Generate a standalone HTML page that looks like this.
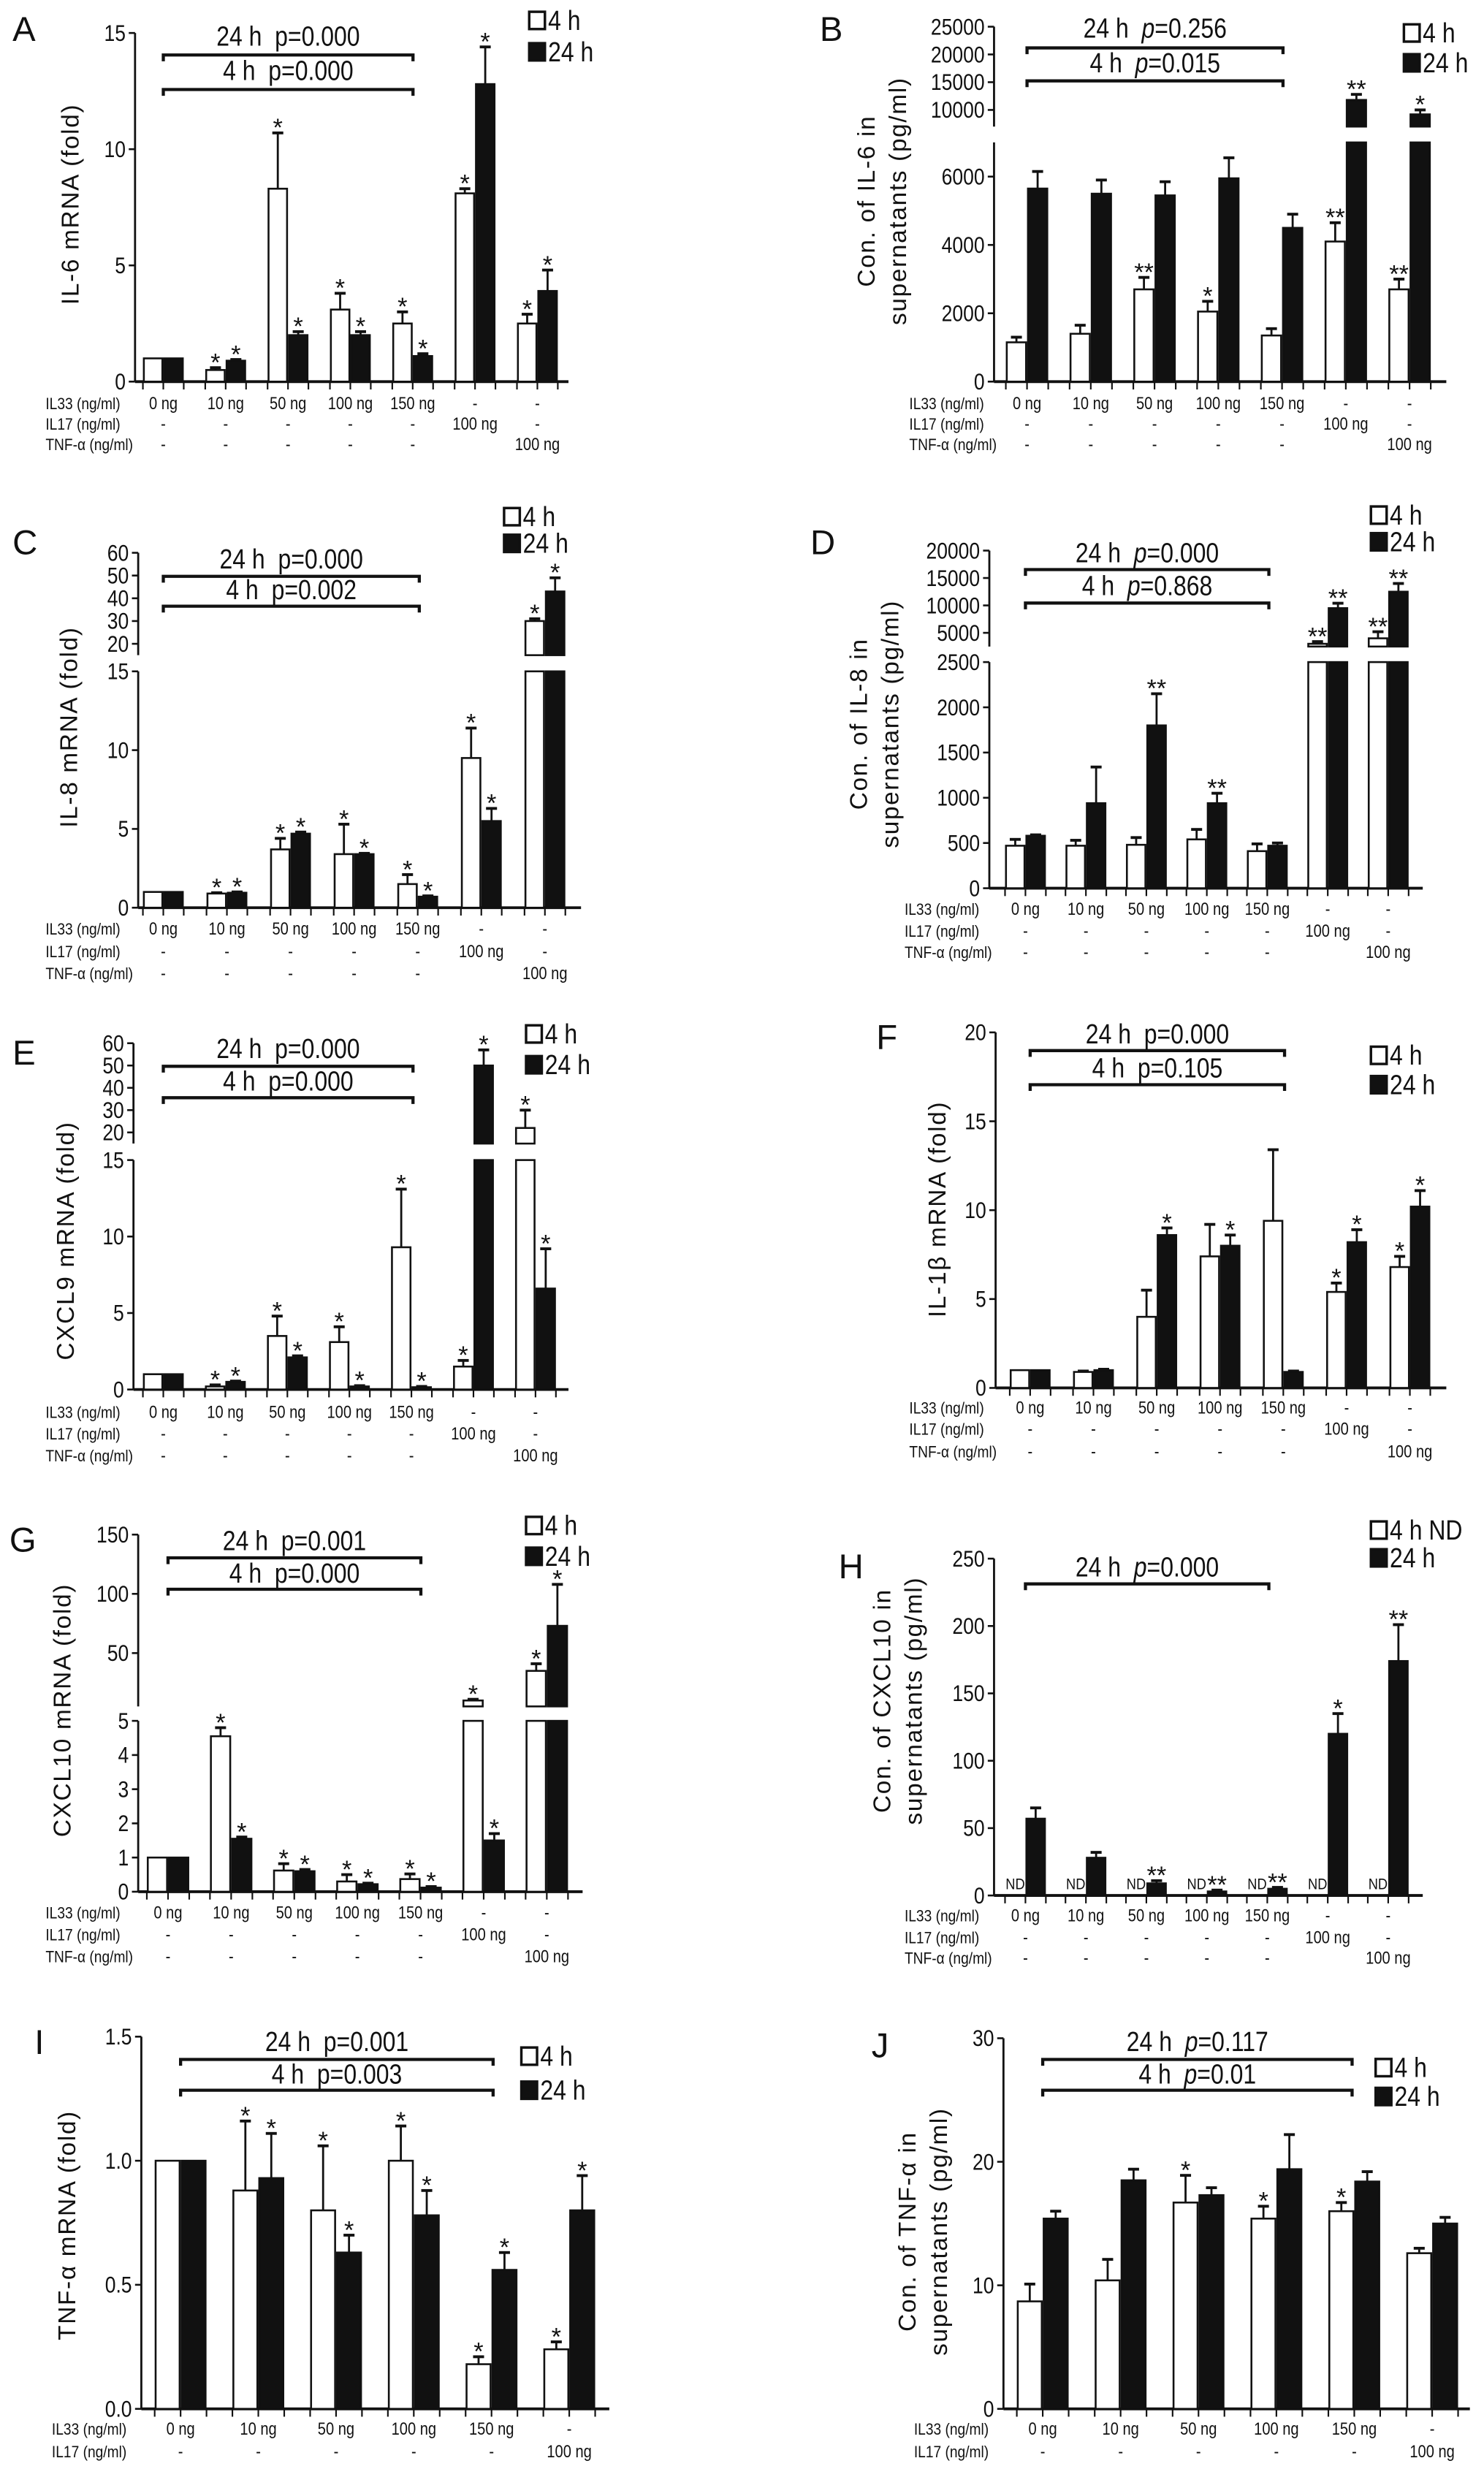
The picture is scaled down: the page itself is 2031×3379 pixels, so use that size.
<!DOCTYPE html>
<html><head><meta charset="utf-8"><title>Cytokine expression panels A–J</title>
<style>
html,body{margin:0;padding:0;background:#fff;}
svg{display:block;}
text{font-family:"Liberation Sans Narrow","Liberation Sans",sans-serif;fill:#111;}
.yl{font-family:"Liberation Sans",sans-serif;letter-spacing:0.8px;}
</style></head>
<body>
<svg id="fig" width="2031" height="3379" viewBox="0 0 945 1572.2" preserveAspectRatio="none" xmlns="http://www.w3.org/2000/svg"></svg>
<script>
// ---- shared category rows ----
const il33Row = ['0 ng','10 ng','50 ng','100 ng','150 ng','-','-'];
const il17Row = ['-','-','-','-','-','100 ng','-'];
const tnfRow  = ['-','-','-','-','-','','100 ng'];
const il33Row6 = ['0 ng','10 ng','50 ng','100 ng','150 ng','-'];
const il17Row6 = ['-','-','-','-','-','100 ng'];

// ---- Panel A ----
const A_ticks = [0,5,10,15];
const A_white = [1,0.5,8.3,3.1,2.5,8.1,2.5];
const A_whiteErr = [0,0.1,2.4,0.7,0.5,0.2,0.4];
const A_black = [1,0.9,2.0,2.0,1.1,12.8,3.9];
const A_blackErr = [0,0.05,0.15,0.15,0.1,1.6,0.9];
const A_whiteStars = ['','*','*','*','*','*','*'];
const A_blackStars = ['','*','*','*','*','*','*'];
// ---- Panel B ----
const B_ticks = [0,2000,4000,6000,10000,15000,20000,25000];
const B_white = [1150,1400,2700,2050,1350,4100,2700];
const B_whiteErr = [150,250,350,300,200,550,300];
const B_black = [5650,5500,5450,5950,4500,11800,9200];
const B_blackErr = [500,400,400,600,400,1000,800];
const B_whiteStars = ['','','**','*','','**','**'];
const B_blackStars = ['','','','','','**','*'];
// ---- Panel C ----
const C_ticks = [0,5,10,15,20,30,40,50,60];
const C_white = [1,0.9,3.7,3.4,1.5,9.5,30];
const C_whiteErr = [0,0.05,0.7,1.9,0.6,1.9,1];
const C_black = [1,0.95,4.7,3.4,0.7,5.5,43];
const C_blackErr = [0,0.05,0.1,0.05,0.05,0.8,6];
const C_whiteStars = ['','*','*','*','*','*','*'];
const C_blackStars = ['','*','*','*','*','*','*'];
// ---- Panel D ----
const D_ticks = [0,500,1000,1500,2000,2500,5000,10000,15000,20000];
const D_white = [470,470,480,540,410,3000,4000];
const D_whiteErr = [70,60,80,110,80,400,1200];
const D_black = [580,940,1800,940,470,9500,12500];
const D_blackErr = [10,400,350,110,30,900,1500];
const D_whiteStars = ['','','','','','**','**'];
const D_blackStars = ['','','**','**','','**','**'];
// ---- Panel E ----
const E_ticks = [0,5,10,15,20,30,40,50,60];
const E_white = [1,0.2,3.5,3.1,9.3,1.5,22];
const E_whiteErr = [0,0.1,1.3,1.0,3.8,0.4,8];
const E_black = [1,0.5,2.1,0.2,0.15,50,6.6];
const E_blackErr = [0,0.05,0.1,0.05,0.05,7,2.6];
const E_whiteStars = ['','*','*','*','*','*','*'];
const E_blackStars = ['','*','*','*','*','*','*'];
// ---- Panel F ----
const F_ticks = [0,5,10,15,20];
const F_white = [1,0.9,4.0,7.4,9.4,5.4,6.8];
const F_whiteErr = [0,0.05,1.5,1.8,4.0,0.5,0.6];
const F_black = [1,1.0,8.6,8.0,0.9,8.2,10.2];
const F_blackErr = [0,0.05,0.4,0.6,0.05,0.7,0.9];
const F_whiteStars = ['','','','','','*','*'];
const F_blackStars = ['','','*','*','','*','*'];
// ---- Panel G ----
const G_ticks = [0,1,2,3,4,5,50,100,150];
const G_white = [1,4.55,0.62,0.3,0.37,10,35];
const G_whiteErr = [0,0.25,0.2,0.2,0.15,1,6];
const G_black = [1,1.55,0.6,0.22,0.12,1.5,73];
const G_blackErr = [0,0.05,0.05,0.03,0.03,0.2,35];
const G_whiteStars = ['','*','*','*','*','*','*'];
const G_blackStars = ['','*','*','*','*','*','*'];
// ---- Panel H ----
const H_ticks = [0,50,100,150,200,250];
const H_white = [0,0,0,0,0,0,0];
const H_whiteErr = [0,0,0,0,0,0,0];
const H_black = [57,28,9,3,5,120,174];
const H_blackErr = [8,4,2,1,1,15,27];
const H_whiteStars = ['','','','','','',''];
const H_blackStars = ['','','**','**','**','*','**'];
// ---- Panel I ----
const I_ticks = [0,0.5,1.0,1.5];
const I_tickLabels = ['0.0','0.5','1.0','1.5'];
const I_white = [1.0,0.88,0.80,1.0,0.18,0.24];
const I_whiteErr = [0,0.28,0.26,0.14,0.03,0.03];
const I_black = [1.0,0.93,0.63,0.78,0.56,0.80];
const I_blackErr = [0,0.18,0.07,0.10,0.07,0.14];
const I_whiteStars = ['','*','*','*','*','*'];
const I_blackStars = ['','*','*','*','*','*'];
// ---- Panel J ----
const J_ticks = [0,10,20,30];
const J_white = [8.7,10.4,16.7,15.4,16.0,12.6];
const J_whiteErr = [1.4,1.7,2.2,1.0,0.7,0.4];
const J_black = [15.4,18.5,17.3,19.4,18.4,15.0];
const J_blackErr = [0.6,0.9,0.6,2.8,0.8,0.5];
const J_whiteStars = ['','','*','*','*',''];
const J_blackStars = ['','','','','',''];

const SP = '\u00a0\u00a0';
// ---- layout (positions, not data) ----
const panels = [
 {id:'a',L:'A',lx:8,ly:18,ax:86,right:362,c0:104,step:39.7,bw:13,
  segs:[{v0:0,v1:15,y0:243,y1:21}],ticks:A_ticks,white:A_white,we:A_whiteErr,black:A_black,be:A_blackErr,ws:A_whiteStars,bs:A_blackStars,
  sig:[{t:'24 h'+SP+'p=0.000',ty:23,ly:35},{t:'4 h'+SP+'p=0.000',ty:45,ly:57}],sigX:[104,263],
  leg:{x:337,y1:13,y2:33,l1:'4 h'},ylab:{x:45,y:130,lines:['IL-6 mRNA (fold)']},rowX:29,rowY:[257,270,283],rows:3},
 {id:'b',L:'B',lx:522,ly:18,ax:633,right:921,c0:654,step:40.6,bw:13.5,
  segs:[{v0:0,v1:7000,y0:243,y1:90.7},{v0:7000,v1:25000,y0:80.6,y1:17}],ticks:B_ticks,white:B_white,we:B_whiteErr,black:B_black,be:B_blackErr,ws:B_whiteStars,bs:B_blackStars,
  sig:[{t:'24 h'+SP,p:'p',r:'=0.256',ty:18,ly:30.5},{t:'4 h'+SP,p:'p',r:'=0.015',ty:40,ly:51.5}],sigX:[654,817],
  leg:{x:894,y1:21,y2:40,l1:'4 h'},ylab:{x:562,y:128,lines:['Con. of IL-6 in','supernatants (pg/ml)']},rowX:579,rowY:[257,270,283],rows:3},
 {id:'c',L:'C',lx:8,ly:345,ax:88,right:370,c0:104,step:40.5,bw:13,
  segs:[{v0:0,v1:15,y0:578,y1:427.5},{v0:15,v1:60,y0:417.2,y1:352}],ticks:C_ticks,white:C_white,we:C_whiteErr,black:C_black,be:C_blackErr,ws:C_whiteStars,bs:C_blackStars,
  sig:[{t:'24 h'+SP+'p=0.000',ty:356,ly:367},{t:'4 h'+SP+'p=0.002',ty:375.5,ly:386}],sigX:[104,267],
  leg:{x:321,y1:329,y2:346,l1:'4 h'},ylab:{x:44,y:463,lines:['IL-8 mRNA (fold)']},rowX:29,rowY:[591.5,606,620],rows:3},
 {id:'d',L:'D',lx:516,ly:345,ax:630,right:906,c0:653,step:38.5,bw:13,
  segs:[{v0:0,v1:2500,y0:565.6,y1:421.6},{v0:2500,v1:20000,y0:411.7,y1:350.6}],ticks:D_ticks,white:D_white,we:D_whiteErr,black:D_black,be:D_blackErr,ws:D_whiteStars,bs:D_blackStars,
  sig:[{t:'24 h'+SP,p:'p',r:'=0.000',ty:352,ly:362.7},{t:'4 h'+SP,p:'p',r:'=0.868',ty:373,ly:384}],sigX:[653,808],
  leg:{x:873,y1:328,y2:345,l1:'4 h'},ylab:{x:557,y:461,lines:['Con. of IL-8 in','supernatants (pg/ml)']},rowX:576,rowY:[579,593,606.5],rows:3},
 {id:'e',L:'E',lx:8,ly:670,ax:85,right:362,c0:104,step:39.5,bw:13,
  segs:[{v0:0,v1:15,y0:884.8,y1:738.7},{v0:15,v1:60,y0:728.2,y1:664.3}],ticks:E_ticks,white:E_white,we:E_whiteErr,black:E_black,be:E_blackErr,ws:E_whiteStars,bs:E_blackStars,
  sig:[{t:'24 h'+SP+'p=0.000',ty:667.8,ly:679},{t:'4 h'+SP+'p=0.000',ty:688.4,ly:699}],sigX:[104,263],
  leg:{x:335,y1:658.4,y2:678,l1:'4 h'},ylab:{x:42,y:790,lines:['CXCL9 mRNA (fold)']},rowX:29,rowY:[899.5,913,927],rows:3},
 {id:'f',L:'F',lx:558,ly:660,ax:634,right:921,c0:656,step:40.3,bw:13,
  segs:[{v0:0,v1:20,y0:883.8,y1:657.4}],ticks:F_ticks,white:F_white,we:F_whiteErr,black:F_black,be:F_blackErr,ws:F_whiteStars,bs:F_blackStars,
  sig:[{t:'24 h'+SP+'p=0.000',ty:658.4,ly:669},{t:'4 h'+SP+'p=0.105',ty:680,ly:690.7}],sigX:[656,818],
  leg:{x:873,y1:672,y2:690.7,l1:'4 h'},ylab:{x:597,y:770,lines:['IL-1\u03b2 mRNA (fold)']},rowX:579,rowY:[896.5,910,924.5],rows:3},
 {id:'g',L:'G',lx:6,ly:980,ax:88,right:371,c0:107,step:40.2,bw:13.5,
  segs:[{v0:0,v1:5,y0:1204.6,y1:1095.8},{v0:5,v1:150,y0:1086.6,y1:977.2}],ticks:G_ticks,white:G_white,we:G_whiteErr,black:G_black,be:G_blackErr,ws:G_whiteStars,bs:G_blackStars,
  sig:[{t:'24 h'+SP+'p=0.001',ty:981,ly:992},{t:'4 h'+SP+'p=0.000',ty:1001.7,ly:1012}],sigX:[107,268],
  leg:{x:335,y1:971.4,y2:991,l1:'4 h'},ylab:{x:40,y:1089,lines:['CXCL10 mRNA (fold)']},rowX:29,rowY:[1218,1232,1246],rows:3},
 {id:'h',L:'H',lx:534,ly:997,ax:633,right:906,c0:653,step:38.5,bw:13,nd:true,
  segs:[{v0:0,v1:250,y0:1207,y1:992.5}],ticks:H_ticks,white:H_white,we:H_whiteErr,black:H_black,be:H_blackErr,ws:H_whiteStars,bs:H_blackStars,
  sig:[{t:'24 h'+SP,p:'p',r:'=0.000',ty:997.8,ly:1008.6}],sigX:[653,808],
  leg:{x:873,y1:974.3,y2:992,l1:'4 h ND'},ylab:{x:572,y:1083,lines:['Con. of CXCL10 in','supernatants (pg/ml)']},rowX:576,rowY:[1220,1234,1247],rows:3},
 {id:'i',L:'I',lx:22,ly:1300,ax:90,right:388,c0:115,step:49.5,bw:16.5,
  segs:[{v0:0,v1:1.5,y0:1533.9,y1:1296.9}],ticks:I_ticks,tickLabels:I_tickLabels,white:I_white,we:I_whiteErr,black:I_black,be:I_blackErr,ws:I_whiteStars,bs:I_blackStars,
  sig:[{t:'24 h'+SP+'p=0.001',ty:1300,ly:1311.4},{t:'4 h'+SP+'p=0.003',ty:1320.7,ly:1331}],sigX:[115,314],
  leg:{x:332,y1:1309.3,y2:1331,l1:'4 h'},ylab:{x:43,y:1417,lines:['TNF-\u03b1 mRNA (fold)']},rowX:33,rowY:[1546.8,1561.3],rows:2},
 {id:'j',L:'J',lx:555,ly:1302,ax:639,right:936,c0:664,step:49.6,bw:16.5,
  segs:[{v0:0,v1:30,y0:1533.9,y1:1297.9}],ticks:J_ticks,white:J_white,we:J_whiteErr,black:J_black,be:J_blackErr,ws:J_whiteStars,bs:J_blackStars,
  sig:[{t:'24 h'+SP,p:'p',r:'=0.117',ty:1300,ly:1311.4},{t:'4 h'+SP,p:'p',r:'=0.01',ty:1320.7,ly:1331}],sigX:[664,861],
  leg:{x:876,y1:1316.6,y2:1335,l1:'4 h'},ylab:{x:588,y:1421,lines:['Con. of TNF-\u03b1 in','supernatants (pg/ml)']},rowX:582,rowY:[1546.8,1561.3],rows:2}
];

const NS = 'http://www.w3.org/2000/svg';
const svg = document.getElementById('fig');
function mk(tag, attrs, parent){
  const el = document.createElementNS(NS, tag);
  for (const k in attrs) el.setAttribute(k, attrs[k]);
  parent.appendChild(el);
  return el;
}
function yOf(P, v){
  let s = P.segs.find(t => v <= t.v1) || P.segs[P.segs.length-1];
  return s.y0 + (v - s.v0) / (s.v1 - s.v0) * (s.y1 - s.y0);
}
function segY(s, v){ return s.y0 + (v - s.v0) / (s.v1 - s.v0) * (s.y1 - s.y0); }
// condensed text helper: horizontally squeeze around anchor x
function sq(x, y, f){ return `translate(${x},${y}) scale(${f},1)`; }

panels.forEach(P => {
  const g = mk('g', {}, svg);
  
  
  const base = P.segs[0].y0;
  const lt = mk('text', {x:P.lx, y:P.ly+8, 'font-size':22, 'font-family':'Liberation Sans, sans-serif'}, g);
  
  
  lt.textContent = P.L;
  P.segs.forEach(s => {
    const l = mk('line', {x1:P.ax, x2:P.ax, y1:s.y0, y2:s.y1, stroke:'#111', 'stroke-width':1.3}, g);
    
    
  });
  P.ticks.forEach((v, i) => {
    const y = yOf(P, v);
    const t = mk('line', {x1:P.ax-4, x2:P.ax, y1:y, y2:y, stroke:'#111', 'stroke-width':1.2}, g);
    
    
    const tx = mk('text', {transform:sq(P.ax-6, y+5, 0.85), 'font-size':14.5, 'text-anchor':'end'}, g);
    
    
    tx.textContent = P.tickLabels ? P.tickLabels[i] : String(v);
  });
  const xa = mk('line', {x1:P.ax, x2:P.right, y1:base, y2:base, stroke:'#111', 'stroke-width':1.8}, g);
  
  
  const n = P.white.length;
  for (let i = 0; i < n; i++) {
    const c = P.c0 + i * P.step;
    [c - P.bw, c, c + P.bw].forEach(xx => {
      const tk = mk('line', {x1:xx, x2:xx, y1:base, y2:base+5, stroke:'#111', 'stroke-width':1}, g);
      
      
    });
    const series = [
      {vals:P.white, errs:P.we, stars:P.ws, x:c - P.bw, fill:'#fff', name:'4h'},
      {vals:P.black, errs:P.be, stars:P.bs, x:c, fill:'#111', name:'24h'}
    ];
    series.forEach(S => {
      const v = S.vals[i];
      if (v > 0) {
        P.segs.forEach(s => {
          if (v > s.v0) {
            const top = segY(s, Math.min(v, s.v1));
            const bot = s.y0;
            const r = mk('rect', {x:S.x+0.6, y:top, width:P.bw-1.2, height:Math.max(0.5, bot-top), fill:S.fill, stroke:'#111', 'stroke-width':1.2}, g);
            
            
          }
        });
        const yTop = yOf(P, v);
        const e = S.errs[i];
        let starBase = yTop;
        if (e > 0) {
          const ye = yOf(P, v + e);
          const cx = S.x + P.bw/2;
          const el = mk('line', {x1:cx, x2:cx, y1:yTop, y2:ye, stroke:'#111', 'stroke-width':1.3}, g);
          
          
          const cap = mk('line', {x1:cx-3.5, x2:cx+3.5, y1:ye, y2:ye, stroke:'#111', 'stroke-width':1.8}, g);
          
          
          starBase = ye;
        }
        if (S.stars[i]) {
          const st = mk('text', {x:S.x + P.bw/2, y:starBase + 2, 'font-size':16, 'text-anchor':'middle', 'font-family':'Liberation Sans, sans-serif'}, g);
          
          
          st.textContent = S.stars[i];
        }
      } else if (P.nd && S.name === '4h') {
        const nd = mk('text', {transform:sq(S.x + P.bw/2, base - 4, 0.85), 'font-size':10, 'text-anchor':'middle'}, g);
        
        
        nd.textContent = 'ND';
      }
    });
  }
  P.sig.forEach(S => {
    const mid = (P.sigX[0] + P.sigX[1]) / 2;
    const tx = mk('text', {transform:sq(mid, S.ty+6, 0.85), 'font-size':17.5, 'text-anchor':'middle'}, g);
    
    
    if (S.p) {
      tx.appendChild(document.createTextNode(S.t));
      const ts = mk('tspan', {'font-style':'italic'}, tx);
      ts.textContent = S.p;
      tx.appendChild(document.createTextNode(S.r));
    } else tx.textContent = S.t;
    const pl = mk('path', {d:`M${P.sigX[0]},${S.ly+4} V${S.ly} H${P.sigX[1]} V${S.ly+4}`, fill:'none', stroke:'#111', 'stroke-width':2}, g);
    
    
  });
  [[P.leg.y1,'#fff',P.leg.l1,'legend-entry-4h'],[P.leg.y2,'#111','24 h','legend-entry-24h']].forEach(L => {
    const lg = mk('g', {}, g);
    
    
    mk('rect', {x:P.leg.x, y:L[0]-5.5, width:10, height:11, fill:L[1], stroke:'#111', 'stroke-width':1.6}, lg);
    const t = mk('text', {transform:sq(P.leg.x+12, L[0]+6, 0.85), 'font-size':17.5}, lg);
    t.textContent = L[2];
  });
  const yt = mk('text', {transform:`translate(${P.ylab.x},${P.ylab.y}) rotate(-90)`, 'font-size':15.5, 'text-anchor':'middle', class:'yl'}, g);
  
  
  P.ylab.lines.forEach((ln, k) => {
    const ts = mk('tspan', {x:0, y:(k - (P.ylab.lines.length-1)/2) * 20 + 5}, yt);
    ts.textContent = ln;
  });
  const rowNames = ['IL33 (ng/ml)','IL17 (ng/ml)','TNF-\u03b1 (ng/ml)'];
  const rowVals = P.rows === 3 ? [il33Row, il17Row, tnfRow] : [il33Row6, il17Row6];
  rowVals.forEach((vals, r) => {
    const y = P.rowY[r] + 3.5;
    const rl = mk('text', {transform:sq(P.rowX, y, 0.85), 'font-size':10.5}, g);
    
    
    rl.textContent = rowNames[r];
    vals.forEach((v, i) => {
      if (!v) return;
      const t = mk('text', {transform:sq(P.c0 + i*P.step, y, 0.85), 'font-size':11, 'text-anchor':'middle'}, g);
      
      
      t.textContent = v;
    });
  });
});
</script>
</body></html>
